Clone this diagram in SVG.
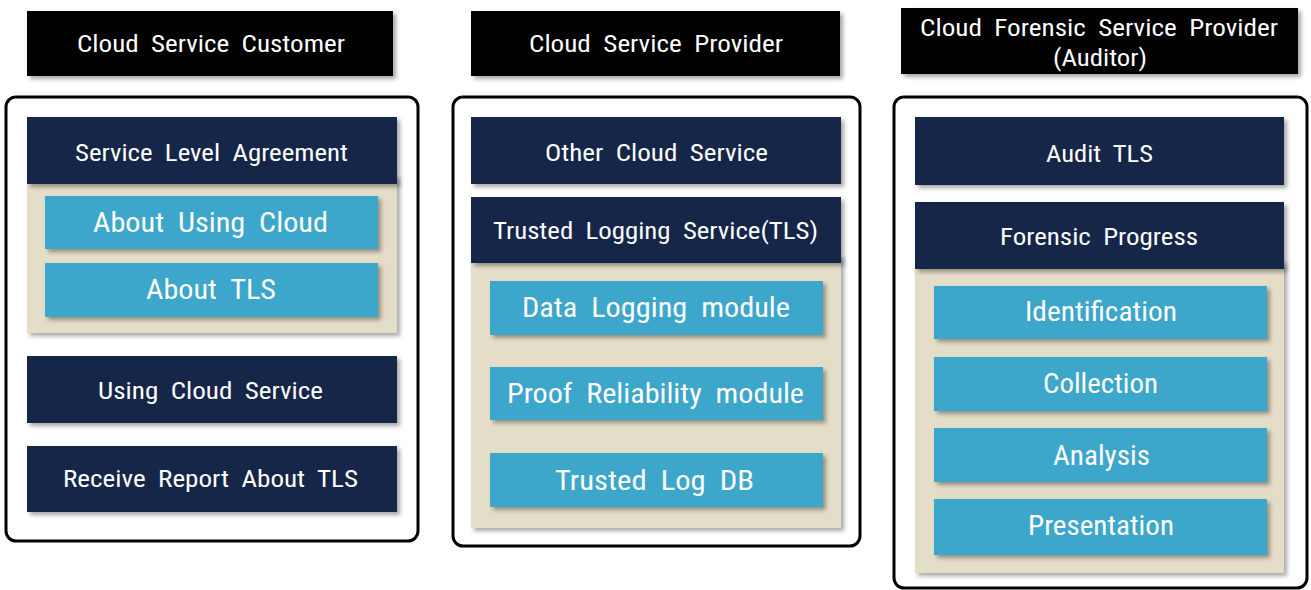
<svg xmlns="http://www.w3.org/2000/svg" width="1311" height="590" viewBox="0 0 1311 590" xml:space="preserve">
<defs>
<filter id="sh" x="-5%" y="-10%" width="115%" height="140%">
<feDropShadow dx="3" dy="3" stdDeviation="2" flood-color="#000" flood-opacity="0.35"/>
</filter>
</defs>
<style>
.hdr{fill:#000;filter:url(#sh)}
.frame{fill:#fff;stroke:#000;stroke-width:3}
.dark{fill:#16264a;filter:url(#sh)}
.beige{fill:#e4ddc8;filter:url(#sh)}
.blue{fill:#3ea6cb;filter:url(#sh)}
text{font-family:"Liberation Sans Narrow","Roboto Condensed","Liberation Sans",Arial,sans-serif;fill:#fff;text-anchor:start;white-space:pre}
.th{font-size:23px}
.td{font-size:24px}
.tb{font-size:28px}
</style>
<rect width="1311" height="590" fill="#fff"/>

<g id="headers">
<g id="h-customer"><rect class="hdr" x="27" y="11" width="366" height="65"/><text class="th" x="77" y="52" textLength="268" lengthAdjust="spacingAndGlyphs">Cloud  Service  Customer</text></g>
<g id="h-provider"><rect class="hdr" x="471" y="11" width="369" height="65"/><text class="th" x="529" y="52" textLength="254" lengthAdjust="spacingAndGlyphs">Cloud  Service  Provider</text></g>
<g id="h-auditor"><rect class="hdr" x="901" y="8" width="397" height="66"/><text class="th" x="920" y="36" textLength="358" lengthAdjust="spacingAndGlyphs">Cloud  Forensic  Service  Provider</text><text class="th" x="1053" y="66" textLength="94" lengthAdjust="spacingAndGlyphs">(Auditor)</text></g>
</g>

<g id="col-customer">
<rect class="frame" x="6" y="97" width="412" height="444" rx="10"/>
<g id="sla-panel"><rect class="beige" x="27" y="175" width="370" height="158"/></g>
<g id="sla"><rect class="dark" x="27" y="117" width="370" height="67"/><text class="td" x="75" y="161" textLength="273" lengthAdjust="spacingAndGlyphs">Service  Level  Agreement</text></g>
<g id="about-using-cloud"><rect class="blue" x="45" y="196" width="333" height="53"/><text class="tb" x="93" y="232" textLength="235" lengthAdjust="spacingAndGlyphs">About  Using  Cloud</text></g>
<g id="about-tls"><rect class="blue" x="45" y="263" width="333" height="54"/><text class="tb" x="146" y="299" textLength="130" lengthAdjust="spacingAndGlyphs">About  TLS</text></g>
<g id="using-cloud-service"><rect class="dark" x="27" y="356" width="370" height="67"/><text class="td" x="98" y="399" textLength="225" lengthAdjust="spacingAndGlyphs">Using  Cloud  Service</text></g>
<g id="receive-report"><rect class="dark" x="27" y="446" width="370" height="66"/><text class="td" x="63" y="487" textLength="295" lengthAdjust="spacingAndGlyphs">Receive  Report  About  TLS</text></g>
</g>

<g id="col-provider">
<rect class="frame" x="453" y="97" width="407" height="449" rx="10"/>
<g id="other-cloud-service"><rect class="dark" x="471" y="117" width="370" height="67"/><text class="td" x="545" y="161" textLength="223" lengthAdjust="spacingAndGlyphs">Other  Cloud  Service</text></g>
<g id="tls-panel"><rect class="beige" x="471" y="255" width="370" height="273"/></g>
<g id="tls"><rect class="dark" x="471" y="197" width="370" height="66"/><text class="td" x="493" y="239" textLength="325" lengthAdjust="spacingAndGlyphs">Trusted  Logging  Service(TLS)</text></g>
<g id="data-logging"><rect class="blue" x="490" y="281" width="333" height="54"/><text class="tb" x="522" y="317" textLength="268" lengthAdjust="spacingAndGlyphs">Data  Logging  module</text></g>
<g id="proof-reliability"><rect class="blue" x="490" y="367" width="333" height="53"/><text class="tb" x="507" y="403" textLength="297" lengthAdjust="spacingAndGlyphs">Proof  Reliability  module</text></g>
<g id="trusted-log-db"><rect class="blue" x="490" y="453" width="333" height="54"/><text class="tb" x="555" y="490" textLength="199" lengthAdjust="spacingAndGlyphs">Trusted  Log  DB</text></g>
</g>

<g id="col-auditor">
<rect class="frame" x="894" y="97" width="413" height="491" rx="10"/>
<g id="audit-tls"><rect class="dark" x="915" y="117" width="369" height="68"/><text class="td" x="1046" y="162" textLength="107" lengthAdjust="spacingAndGlyphs">Audit  TLS</text></g>
<g id="forensic-panel"><rect class="beige" x="915" y="260" width="369" height="313"/></g>
<g id="forensic-progress"><rect class="dark" x="915" y="202" width="369" height="67"/><text class="td" x="1000" y="245" textLength="198" lengthAdjust="spacingAndGlyphs">Forensic  Progress</text></g>
<g id="identification"><rect class="blue" x="934" y="286" width="333" height="53"/><text class="tb" x="1025" y="321" textLength="152" lengthAdjust="spacingAndGlyphs">Identification</text></g>
<g id="collection"><rect class="blue" x="934" y="357" width="333" height="54"/><text class="tb" x="1043" y="393" textLength="115" lengthAdjust="spacingAndGlyphs">Collection</text></g>
<g id="analysis"><rect class="blue" x="934" y="428" width="333" height="54"/><text class="tb" x="1053" y="465" textLength="97" lengthAdjust="spacingAndGlyphs">Analysis</text></g>
<g id="presentation"><rect class="blue" x="934" y="499" width="333" height="56"/><text class="tb" x="1028" y="535" textLength="146" lengthAdjust="spacingAndGlyphs">Presentation</text></g>
</g>

<g id="connectors"></g>
</svg>
